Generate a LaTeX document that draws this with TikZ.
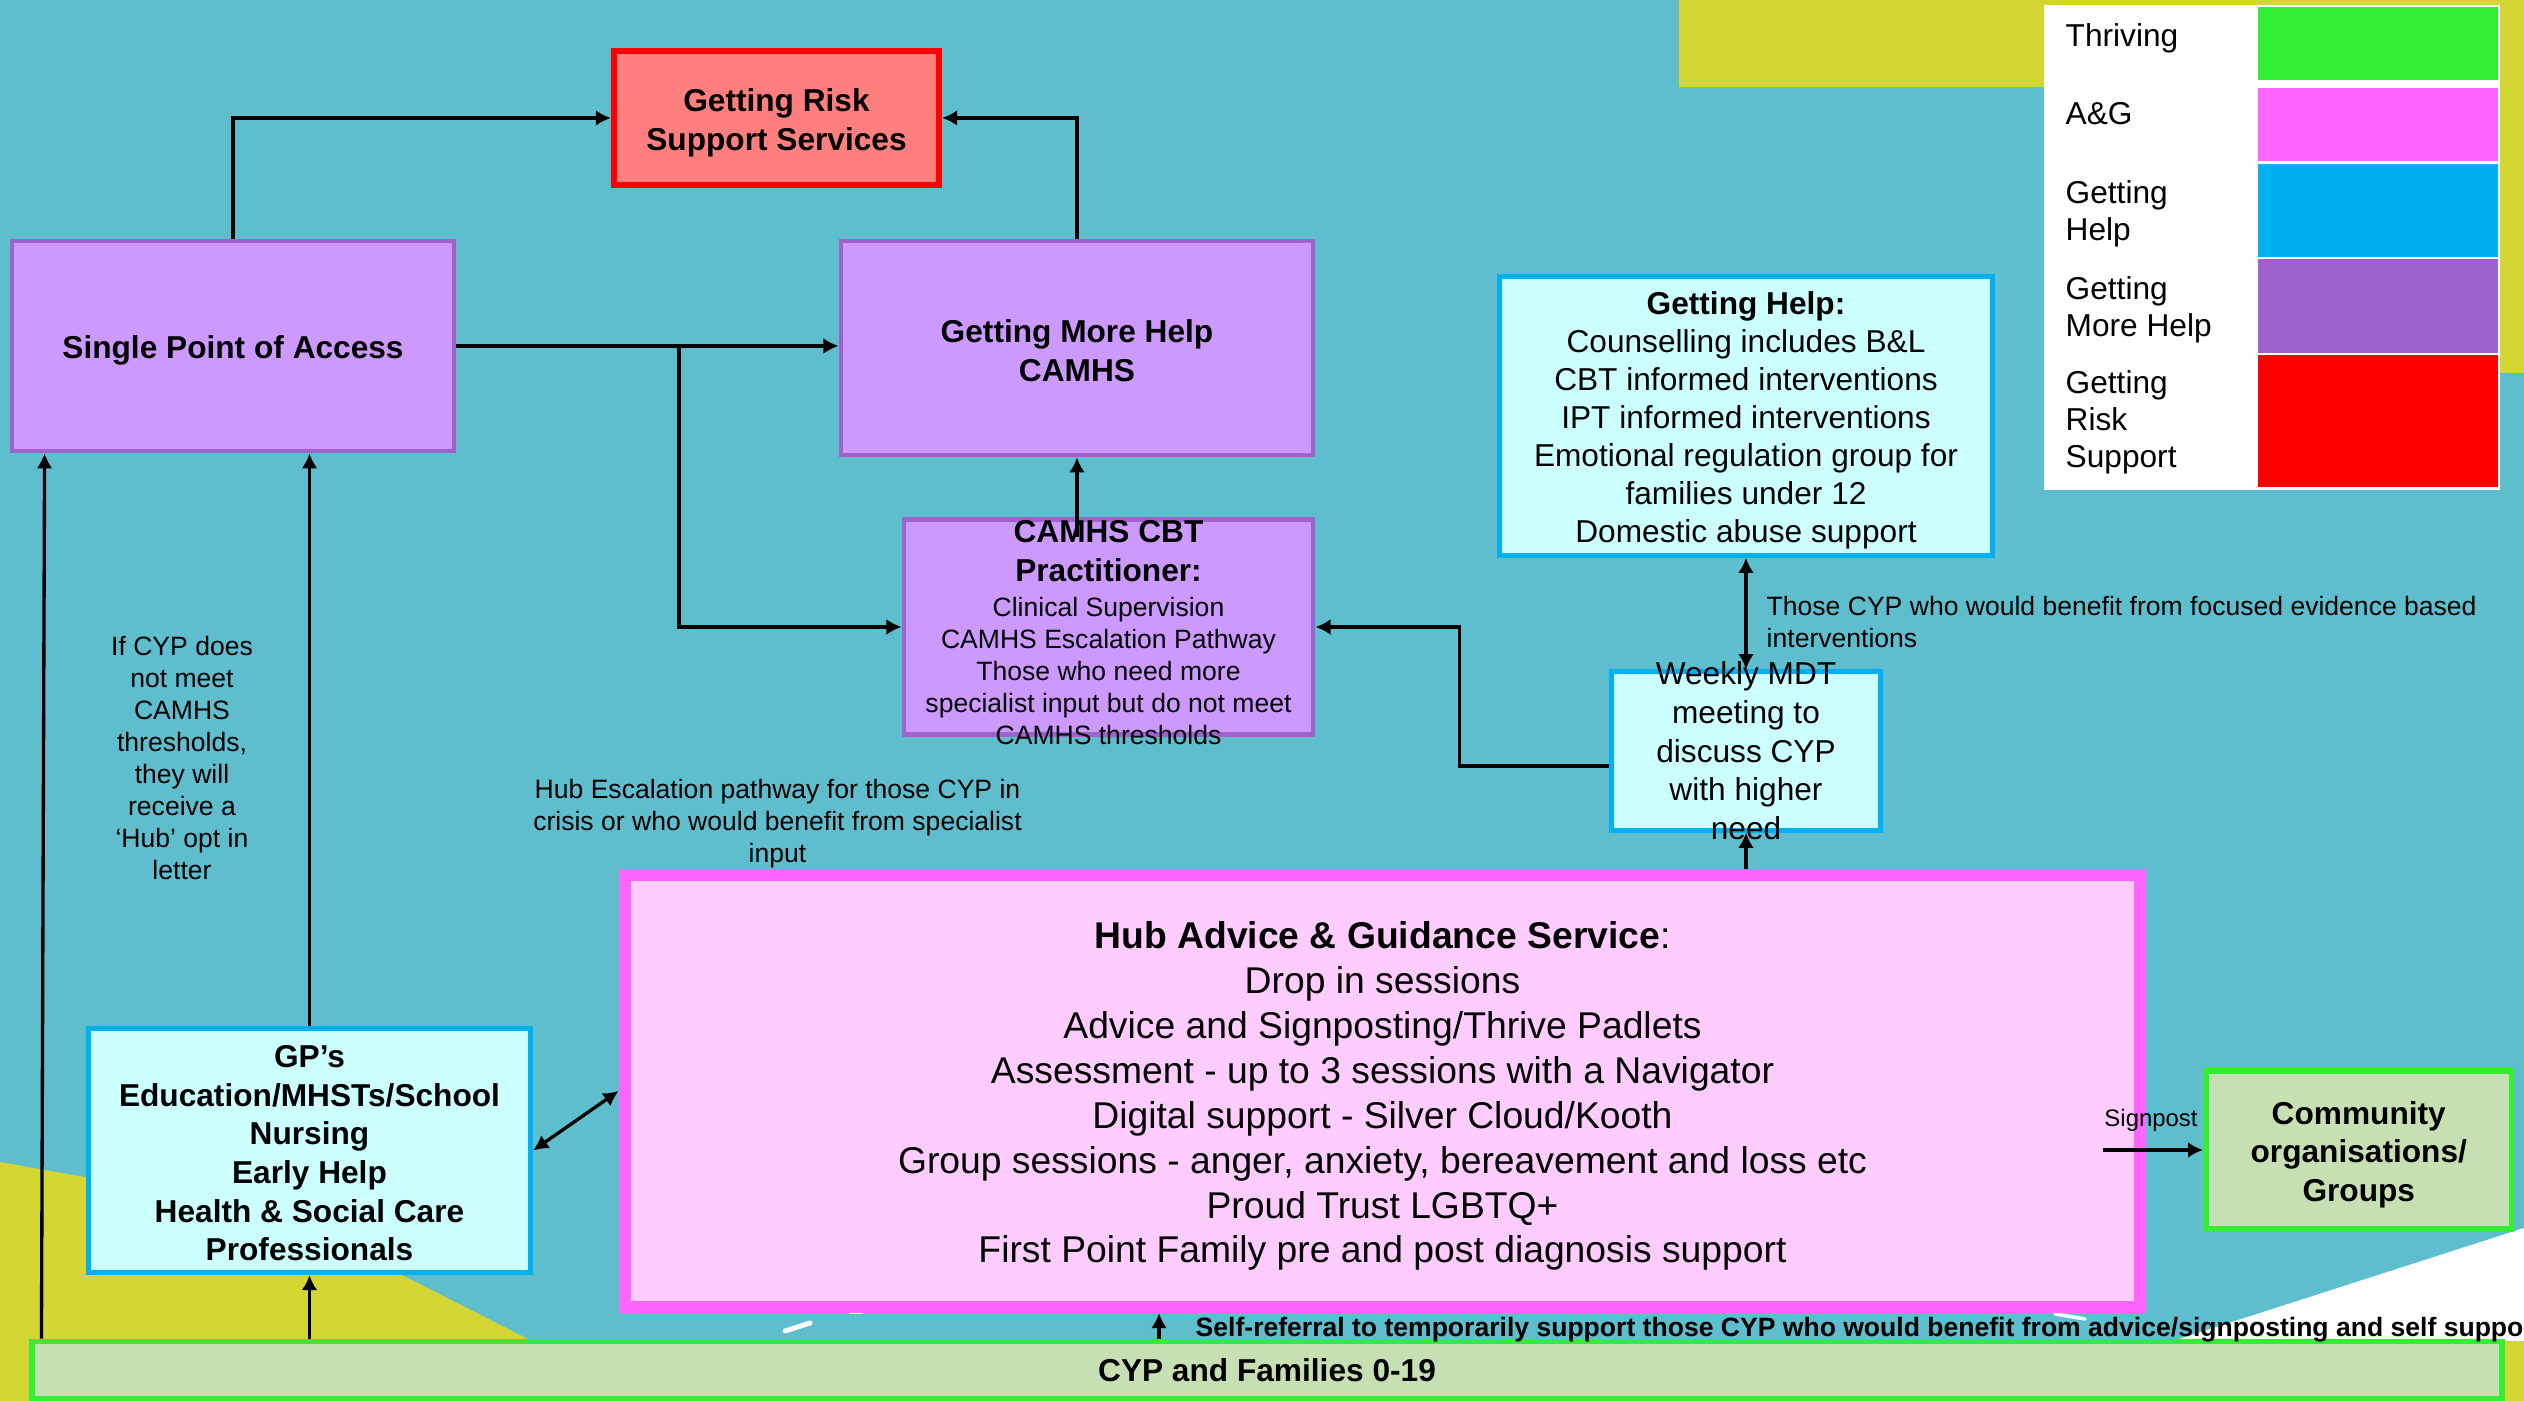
\documentclass[tikz,border=0pt]{standalone}
\usepackage{fontspec}
\setmainfont{Liberation Sans}
\usetikzlibrary{arrows.meta,calc}
\definecolor{bgteal}{RGB}{95,190,206}
\definecolor{bgyellow}{RGB}{212,214,52}
\definecolor{purfill}{RGB}{204,153,255}
\definecolor{purline}{RGB}{158,98,204}
\definecolor{redfill}{RGB}{255,127,127}
\definecolor{redline}{RGB}{255,0,0}
\definecolor{cyanfill}{RGB}{204,255,255}
\definecolor{cyanline}{RGB}{0,176,240}
\definecolor{pinkfill}{RGB}{255,204,255}
\definecolor{pinkline}{RGB}{255,102,255}
\definecolor{grnfill}{RGB}{198,224,180}
\definecolor{grnline}{RGB}{51,238,51}
\newcommand\myboxfont{\fontsize{9}{11}\selectfont}
\newcommand\myghfont{\fontsize{9}{10.8}\selectfont}
\newcommand\myhubfont{\fontsize{10.6}{12.77}\selectfont}
\newcommand\mysmallfont{\fontsize{7.55}{9.1}\selectfont}
\newcommand\mylegfont{\fontsize{9}{10.6}\selectfont}
\newcommand\mysigfont{\fontsize{6.8}{8}\selectfont}
\newcommand\mytopstrut{\rule{0pt}{9.2pt}}
\newcommand\mymidstrut{\rule{0pt}{7.9pt}}
\newcommand\myhubstrut{\rule{0pt}{10.6pt}}
\tikzset{
  mybox/.style={rectangle, inner sep=0pt, align=center, text=black},
  purbox/.style={mybox, fill=purfill, draw=purline, line width=1.3pt, font=\myboxfont\bfseries},
  redbox/.style={mybox, fill=redfill, draw=redline, line width=1.7pt, font=\myboxfont\bfseries},
  cyanbox/.style={mybox, fill=cyanfill, draw=cyanline, line width=1.4pt, font=\myboxfont},
  pinkbox/.style={mybox, fill=pinkfill, draw=pinkline, line width=3.4pt, font=\myhubfont},
  grnbox/.style={mybox, fill=grnfill, draw=grnline, line width=1.6pt, font=\myboxfont\bfseries},
  swatch/.style={rectangle, inner sep=0pt, minimum width=2.40cm},
  legtext/.style={anchor=west, align=left, inner sep=0pt, font=\mylegfont},
  lbl/.style={inner sep=0pt, align=center, font=\mysmallfont},
  arr/.style={line width=0.95pt, -{Latex[length=4.3pt,width=4.5pt]}},
  dblarr/.style={line width=0.95pt, {Latex[length=4.3pt,width=4.5pt]}-{Latex[length=4.3pt,width=4.5pt]}},
  streak/.style={white, line cap=round}
}
\begin{document}
\begin{tikzpicture}[x=0.01cm,y=-0.01cm]
\useasboundingbox (0,0) rectangle (2524,1401);
\clip (0,0) rectangle (2524,1401);
% background
\fill[bgteal] (0,0) rectangle (2524,1401);
\fill[bgyellow] (1679,0) rectangle (2524,87);
\fill[bgyellow] (2044,0) rectangle (2524,373);
\fill[bgyellow] (0,1162) -- (90,1178) -- (402,1275) -- (532,1341) -- (532,1401) -- (0,1401) -- cycle;
\fill[white] (2173,1341) -- (2524,1228) -- (2524,1341) -- cycle;
\fill[bgyellow] (2500,1341) rectangle (2524,1401);
\draw[streak, line width=1.4pt] (785,1331) -- (810,1323);
\draw[streak, line width=0.6pt] (850,1313) -- (862,1313);
\draw[streak, line width=1pt] (2055,1314) -- (2085,1319);

% legend
\node[fill=white, inner sep=0pt, minimum width=4.56cm, minimum height=4.85cm] (leg) at (2272,247.5) {};
\node[swatch, fill=grnline, minimum height=0.73cm] (sw1) at (2378,43.5) {};
\node[swatch, fill=pinkline, minimum height=0.73cm] (sw2) at (2378,124.5) {};
\node[swatch, fill=cyanline, minimum height=0.93cm] (sw3) at (2378,210.5) {};
\node[swatch, fill=purline, minimum height=0.94cm] (sw4) at (2378,306) {};
\node[swatch, fill=redline, minimum height=1.32cm] (sw5) at (2378,421) {};
\node[legtext] (lt1) at (2065,38.5) {Thriving};
\node[legtext] (lt2) at (2065,114) {A\&G};
\node[legtext] (lt3) at (2065,213.5) {Getting\\Help};
\node[legtext] (lt4) at (2065,309.5) {Getting\\More Help};
\node[legtext] (lt5) at (2065,422.5) {Getting\\Risk\\Support};

% boxes
\node[redbox, minimum width=3.25cm, minimum height=1.34cm] (risk) at (776.5,118) {\mytopstrut Getting Risk\\Support Services};
\node[purbox, minimum width=4.42cm, minimum height=2.10cm] (spa) at (233,346) {\mytopstrut Single Point of Access};
\node[purbox, minimum width=4.72cm, minimum height=2.14cm] (gmh) at (1077,348) {\mymidstrut Getting More Help\\CAMHS};
\node[purbox, minimum width=4.09cm, minimum height=2.145cm] (cbt) at (1108.5,627) {};
\node[lbl] (cbttext) at (1108.5,632.5) {{\myboxfont\bfseries CAMHS CBT}\\[1.9pt]{\myboxfont\bfseries Practitioner:}\\[0.9pt]Clinical Supervision\\CAMHS Escalation Pathway\\Those who need more\\specialist input but do not meet\\CAMHS thresholds};
\node[cyanbox, font=\myghfont, minimum width=4.935cm, minimum height=2.785cm] (gh) at (1746,416) {\mytopstrut\textbf{Getting Help:}\\Counselling includes B\&L\\CBT informed interventions\\IPT informed interventions\\Emotional regulation group for\\families under 12\\Domestic abuse support};
\node[cyanbox, minimum width=2.685cm, minimum height=1.585cm] (mdt) at (1746,751) {};
\node[inner sep=0pt, align=center, font=\myboxfont] (mdttext) at (1746,751) {Weekly MDT\\meeting to\\discuss CYP\\with higher\\need};
\node[pinkbox, minimum width=15.15cm, minimum height=4.32cm] (hub) at (1382.5,1091) {\myhubstrut\textbf{Hub Advice \& Guidance Service}:\\Drop in sessions\\Advice and Signposting/Thrive Padlets\\Assessment - up to 3 sessions with a Navigator\\Digital support - Silver Cloud/Kooth\\Group sessions - anger, anxiety, bereavement and loss etc\\Proud Trust LGBTQ+\\First Point Family pre and post diagnosis support};
\node[cyanbox, font=\myboxfont\bfseries, minimum width=4.42cm, minimum height=2.44cm] (gp) at (309.5,1150.5) {\mymidstrut GP’s\\Education/MHSTs/School\\Nursing\\Early Help\\Health \& Social Care\\Professionals};
\node[grnbox, minimum width=3.055cm, minimum height=1.58cm] (com) at (2358.75,1150) {\mytopstrut Community\\organisations/\\Groups};
\node[grnbox, minimum width=24.68cm, minimum height=0.57cm] (cyp) at (1267,1370) {CYP and Families 0-19};

% labels
\node[lbl] (ifcyp) at (182,758) {If CYP does\\not meet\\CAMHS\\thresholds,\\they will\\receive a\\‘Hub’ opt in\\letter};
\node[lbl] (esc) at (777.5,823.6) {Hub Escalation pathway for those CYP in\\crisis or who would benefit from specialist\\input};
\node[lbl, anchor=west, align=left] (focus) at (1766,621.7) {Those CYP who would benefit from focused evidence based\\interventions};
\node[inner sep=0pt, font=\mysigfont] (sign) at (2151,1120) {Signpost};
\node[inner sep=0pt, anchor=west, font=\mysmallfont\bfseries] (selfref) at (1195,1330) {Self-referral to temporarily support those CYP who would benefit from advice/signposting and self support};

% connectors
\coordinate (jx) at (679,0);
\coordinate (srx) at (1159,0);
\draw[arr] (spa.north) |- (risk.west);
\draw[arr] (gmh.north) |- (risk.east);
\draw[arr] (spa.east) -- (spa.east -| gmh.west);
\draw[arr] (jx |- spa.east) |- (cbt.west);
\draw[arr] ($(cbt.north -| gmh.south)+(0,20)$) -- (gmh.south);
\draw[arr] ($(mdt.west)+(0,15)$) -- ++(-150,0) |- (cbt.east);
\draw[dblarr] (mdt.north) -- (gh.south);
\draw[arr] (hub.north -| mdt.south) -- (mdt.south);
\draw[dblarr] (gp.east) -- (hub.west);
\draw[arr] (gp.north) -- (gp.north |- spa.south);
\draw[arr] (cyp.north -| gp.south) -- (gp.south);
\draw[arr] ($(cyp.north west)+(12,0)$) -- ($(spa.south west)+(35,0)$);
\draw[arr] (srx |- cyp.north) -- (srx |- hub.south);
\draw[arr] ($(com.west)+(-100,0)$) -- (com.west);
\end{tikzpicture}
\end{document}
